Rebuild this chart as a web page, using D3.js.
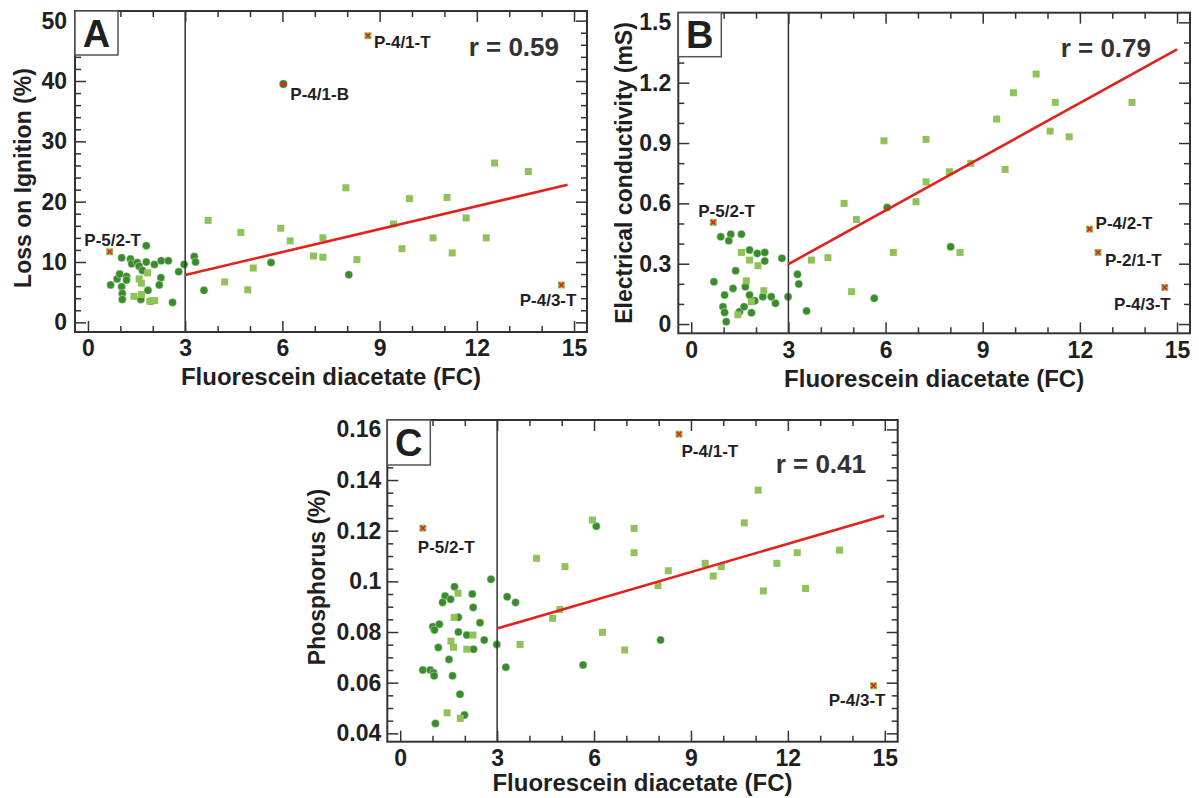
<!DOCTYPE html>
<html><head><meta charset="utf-8">
<script src="https://cdn.jsdelivr.net/npm/d3@7"></script>
<style>
body{margin:0;background:#fff}
svg text{font-family:"Liberation Sans",Arial,Helvetica,sans-serif;font-weight:bold}
</style>
</head><body>
<svg id="chart" width="1199" height="798"></svg>
<script>
// ---------------- DATA ----------------
const xTicks = [0, 3, 6, 9, 12, 15];
const yTicksA = [0, 10, 20, 30, 40, 50];
const yTicksB = [0, 0.3, 0.6, 0.9, 1.2, 1.5];
const yTicksC = [0.04, 0.06, 0.08, 0.1, 0.12, 0.14, 0.16];
const xTitle = "Fluorescein diacetate (FC)";
const yTitles = ["Loss on Ignition (%)", "Electrical conductivity (mS)", "Phosphorus (%)"];
const rLabels = ["r = 0.59", "r = 0.79", "r = 0.41"];
const panelLetters = ["A", "B", "C"];
const threshold = 3;

// Panel A – Loss on ignition
const circlesA = [[0.70,6.2],[0.90,7.2],[0.98,8.0],[1.04,10.7],[1.04,5.9],[1.06,4.8],[1.06,3.8],[1.19,7.6],[1.19,7.0],
  [1.31,10.5],[1.35,9.7],[1.52,9.9],[1.58,9.3],[1.68,8.6],[1.80,12.7],[1.80,10.0],[2.05,9.6],[2.26,10.2],[2.48,10.2],
  [2.25,7.4],[2.20,6.2],[1.85,5.3],[1.63,3.8],[1.94,3.5],[2.61,3.3],[2.80,8.4],[2.97,9.6],[3.28,10.9],[3.32,10.0],
  [3.58,5.3],[5.65,9.9],[8.05,7.9]];
const squaresA = [[1.84,8.2],[1.58,7.2],[1.65,6.5],[1.42,4.3],[1.65,4.6],[2.06,3.6],[1.91,3.5],
  [3.71,16.9],[4.72,14.9],[4.22,6.7],[5.10,9.0],[4.93,5.4],[5.95,15.6],[6.24,13.5],[6.96,11.0],[7.25,14.0],[7.25,10.8],
  [7.96,22.3],[8.30,10.4],[9.43,16.3],[9.69,12.2],[9.92,20.5],[10.65,14.0],[11.08,20.7],[11.24,11.5],[11.67,17.3],
  [12.29,14.0],[12.55,26.4],[13.59,25.0]];
const outliersA = [
  {name:"P-5/2-T", x:0.67, y:11.7, shape:"square"},
  {name:"P-4/1-T", x:8.64, y:47.5, shape:"square"},
  {name:"P-4/1-B", x:6.03, y:39.5, shape:"circle"},
  {name:"P-4/3-T", x:14.61, y:6.2, shape:"square"}];
const fitA = [[3, 7.85], [14.8, 22.8]];

// Panel B – Electrical conductivity
const circlesB = [[0.70,0.21],[0.91,0.434],[1.22,0.447],[1.16,0.414],[1.55,0.447],[1.03,0.144],[0.98,0.086],[1.03,0.058],
  [1.08,0.012],[1.29,0.177],[1.37,0.265],[1.80,0.368],[2.04,0.351],[2.27,0.356],[2.27,0.313],[1.67,0.186],[1.80,0.144],
  [1.96,0.116],[2.21,0.136],[2.47,0.136],[2.60,0.103],[2.80,0.327],[2.99,0.136],[1.49,0.061],[1.63,0.086],[1.86,0.056],
  [3.28,0.247],[3.32,0.199],[3.56,0.065],[5.65,0.128],[6.05,0.580],[8.01,0.384]];
const squaresB = [[1.55,0.356],[1.80,0.318],[2.06,0.290],[1.70,0.215],[2.24,0.166],[1.86,0.111],[1.44,0.046],
  [3.71,0.318],[4.22,0.330],[4.72,0.600],[5.10,0.520],[4.95,0.161],[5.95,0.911],[6.24,0.356],[6.94,0.608],[7.25,0.707],
  [7.25,0.918],[7.97,0.757],[8.30,0.356],[8.63,0.799],[9.43,1.019],[9.69,0.769],[9.95,1.150],[10.65,1.243],[11.08,0.959],
  [11.24,1.102],[11.67,0.931],[13.61,1.102]];
const outliersB = [
  {name:"P-5/2-T", x:0.68, y:0.506, shape:"square"},
  {name:"P-4/2-T", x:12.30, y:0.472, shape:"square"},
  {name:"P-2/1-T", x:12.56, y:0.356, shape:"square"},
  {name:"P-4/3-T", x:14.62, y:0.182, shape:"square"}];
const fitB = [[3, 0.298], [15, 1.366]];

// Panel C – Phosphorus
const circlesC = [[2.81,0.1008],[1.68,0.0979],[1.39,0.0942],[1.31,0.0917],[1.56,0.0929],[2.23,0.0950],[2.26,0.0897],
  [1.80,0.0858],[2.47,0.0837],[1.01,0.0821],[1.21,0.0831],[1.06,0.0808],[1.80,0.0800],[2.06,0.0788],[2.60,0.0768],
  [2.99,0.0751],[1.18,0.0739],[2.27,0.0732],[1.51,0.0692],[0.70,0.0650],[0.93,0.0650],[1.03,0.0639],[1.05,0.0627],
  [1.62,0.0627],[3.27,0.0661],[1.85,0.0554],[1.99,0.0472],[1.09,0.0439],[3.31,0.0939],[3.57,0.0917],[5.66,0.0670],
  [6.07,0.1218],[8.06,0.0768]];
const squaresC = [[1.79,0.0953],[1.67,0.0858],[2.25,0.0788],[1.57,0.0764],[1.65,0.0740],[2.06,0.0732],[1.45,0.0481],
  [1.86,0.0459],[3.71,0.0751],[4.22,0.1091],[4.72,0.0854],[4.94,0.0889],[5.10,0.1058],[5.95,0.1242],[6.26,0.0799],
  [6.95,0.0729],[7.24,0.1209],[7.24,0.1113],[7.98,0.0983],[8.30,0.1042],[9.44,0.1071],[9.69,0.1021],[9.94,0.1058],
  [10.65,0.1231],[11.08,0.1360],[11.24,0.0962],[11.66,0.1071],[12.29,0.1113],[12.55,0.0972],[13.60,0.1123]];
const outliersC = [
  {name:"P-5/2-T", x:0.70, y:0.121, shape:"square"},
  {name:"P-4/1-T", x:8.63, y:0.1581, shape:"square"},
  {name:"P-4/3-T", x:14.65, y:0.0588, shape:"square"}];
const fitC = [[3, 0.0814], [14.98, 0.1259]];

// ---------------- LAYOUT / STYLE ----------------
const DARK = "#3a8b2c", LIGHT = "#8fc35a", RED = "#e3211c", INK = "#1f1f1f", AXIS = "#333";
const xDomain = [-0.4, 15.4];
const layout = [
  {l:75, t:11, r:587, b:332, yDomain:[-1.6, 51.6], yTicks:yTicksA, yMinor:d3.range(0,51,2), tickPad:8,
   yTitleX:22.5, yTitleY:178, xTitleOff:45, letterBox:[75,11,43,44],
   labelPos:{"P-5/2-T":[3,-6,"middle"],"P-4/1-T":[6,12,"start"],"P-4/1-B":[7,16,"start"],"P-4/3-T":[15,21,"end"]},
   rPos:[559,56], circles:circlesA, squares:squaresA, outliers:outliersA, fit:fitA},
  {l:678.3, t:12.7, r:1190, b:333.3, yDomain:[-0.046, 1.548], yTicks:yTicksB, yMinor:d3.range(0,16).map(i=>i/10), tickPad:7,
   yTitleX:624, yTitleY:173, xTitleOff:45, letterBox:[678.3,12.7,43,44],
   labelPos:{"P-5/2-T":[-15,-5,"start"],"P-4/2-T":[6,0,"start"],"P-2/1-T":[7,13.5,"start"],"P-4/3-T":[6,23,"end"]},
   rPos:[1151,56.5], circles:circlesB, squares:squaresB, outliers:outliersB, fit:fitB},
  {l:387.3, t:420, r:897.7, b:741.7, yDomain:[0.0367, 0.1637], yTicks:yTicksC, yMinor:d3.range(8,33).map(i=>i*0.005), tickPad:6,
   yTitleX:317, yTitleY:577, xTitleOff:41, letterBox:[387.3,420,43,45],
   labelPos:{"P-5/2-T":[-5,25,"start"],"P-4/1-T":[2.5,23,"start"],"P-4/3-T":[12,20,"end"]},
   rPos:[866,473], circles:circlesC, squares:squaresC, outliers:outliersC, fit:fitC}
];

const svg = d3.select("#chart");
svg.append("rect").attr("width",1199).attr("height",798).attr("fill","#fff");

layout.forEach((p, i) => {
  const g = svg.append("g");
  const x = d3.scaleLinear().domain(xDomain).range([p.l, p.r]);
  const y = d3.scaleLinear().domain(p.yDomain).range([p.b, p.t]);
  const S = 7;

  // circles (dark green)
  g.append("g").selectAll("circle").data(p.circles).join("circle")
    .attr("cx", d => x(d[0])).attr("cy", d => y(d[1])).attr("r", 4)
    .attr("fill", DARK).attr("stroke", "#fff").attr("stroke-width", 0.4);
  // squares (light green)
  g.append("g").selectAll("rect").data(p.squares).join("rect")
    .attr("x", d => x(d[0]) - S/2).attr("y", d => y(d[1]) - S/2).attr("width", S).attr("height", S)
    .attr("fill", LIGHT);

  // threshold line
  g.append("line").attr("x1", x(threshold)).attr("x2", x(threshold)).attr("y1", p.t).attr("y2", p.b)
    .attr("stroke", AXIS).attr("stroke-width", 1.5);
  // regression line
  g.append("line").attr("x1", x(p.fit[0][0])).attr("y1", y(p.fit[0][1]))
    .attr("x2", x(p.fit[1][0])).attr("y2", y(p.fit[1][1]))
    .attr("stroke", RED).attr("stroke-width", 2.6);

  // axes (ticks point inwards on all four sides)
  const styleAxis = sel => {
    sel.select(".domain").remove();
    sel.selectAll("line").attr("stroke", AXIS).attr("stroke-width", 1.5);
    sel.attr("font-size", 23).attr("font-family", null).attr("fill", INK);
    sel.selectAll("text").attr("fill", INK);
  };
  const xMinor = d3.range(0, 16).filter(v => !xTicks.includes(v));
  const yMinor = p.yMinor.filter(v => !p.yTicks.some(t => Math.abs(t - v) < 1e-9));

  g.append("g").attr("transform", `translate(0,${p.b})`)
    .call(d3.axisBottom(x).tickValues(xTicks).tickSize(-11).tickPadding(8).tickFormat(d => d)).call(styleAxis);
  g.append("g").attr("transform", `translate(0,${p.b})`)
    .call(d3.axisBottom(x).tickValues(xMinor).tickSize(-6).tickFormat("")).call(styleAxis);
  g.append("g").attr("transform", `translate(0,${p.t})`)
    .call(d3.axisTop(x).tickValues(xTicks).tickSize(-11).tickFormat("")).call(styleAxis);
  g.append("g").attr("transform", `translate(0,${p.t})`)
    .call(d3.axisTop(x).tickValues(xMinor).tickSize(-6).tickFormat("")).call(styleAxis);
  g.append("g").attr("transform", `translate(${p.l},0)`)
    .call(d3.axisLeft(y).tickValues(p.yTicks).tickSize(-11).tickPadding(p.tickPad).tickFormat(d => String(d))).call(styleAxis);
  g.append("g").attr("transform", `translate(${p.l},0)`)
    .call(d3.axisLeft(y).tickValues(yMinor).tickSize(-6).tickFormat("")).call(styleAxis);
  g.append("g").attr("transform", `translate(${p.r},0)`)
    .call(d3.axisRight(y).tickValues(p.yTicks).tickSize(-11).tickFormat("")).call(styleAxis);
  g.append("g").attr("transform", `translate(${p.r},0)`)
    .call(d3.axisRight(y).tickValues(yMinor).tickSize(-6).tickFormat("")).call(styleAxis);

  // frame
  g.append("rect").attr("x", p.l).attr("y", p.t).attr("width", p.r - p.l).attr("height", p.b - p.t)
    .attr("fill", "none").attr("stroke", AXIS).attr("stroke-width", 2);

  // outliers (marked with red x)
  const og = g.append("g").selectAll("g").data(p.outliers).join("g")
    .attr("transform", d => `translate(${x(d.x)},${y(d.y)})`);
  og.filter(d => d.shape === "square").append("rect")
    .attr("x", -3.5).attr("y", -3.5).attr("width", 7).attr("height", 7).attr("fill", LIGHT);
  og.filter(d => d.shape === "circle").append("circle").attr("r", 4).attr("fill", DARK);
  og.append("path").attr("d", "M-2.3,-2.3L2.3,2.3M-2.3,2.3L2.3,-2.3")
    .attr("stroke", RED).attr("stroke-width", 1.6);
  og.append("text")
    .attr("x", d => p.labelPos[d.name][0]).attr("y", d => p.labelPos[d.name][1])
    .attr("text-anchor", d => p.labelPos[d.name][2])
    .attr("font-size", 17).attr("fill", INK).text(d => d.name);

  // r label
  g.append("text").attr("x", p.rPos[0]).attr("y", p.rPos[1]).attr("text-anchor", "end")
    .attr("font-size", 26).attr("fill", "#333").text(rLabels[i]);

  // panel letter box
  const lb = p.letterBox;
  g.append("rect").attr("x", lb[0]).attr("y", lb[1]).attr("width", lb[2]).attr("height", lb[3])
    .attr("fill", "#fff").attr("stroke", "#555").attr("stroke-width", 1.5);
  g.append("text").attr("x", lb[0] + lb[2]/2).attr("y", lb[1] + lb[3]/2).attr("dy", "0.36em")
    .attr("text-anchor", "middle").attr("font-size", 38).attr("fill", INK).text(panelLetters[i]);

  // axis titles
  g.append("text").attr("x", (p.l + p.r) / 2).attr("y", p.b + p.xTitleOff).attr("dy", "0.35em")
    .attr("text-anchor", "middle").attr("font-size", 24).attr("fill", INK).text(xTitle);
  g.append("text").attr("transform", `translate(${p.yTitleX},${p.yTitleY}) rotate(-90)`)
    .attr("dy", "0.35em").attr("text-anchor", "middle").attr("font-size", 23).attr("fill", INK).text(yTitles[i]);
});
</script>
</body></html>
